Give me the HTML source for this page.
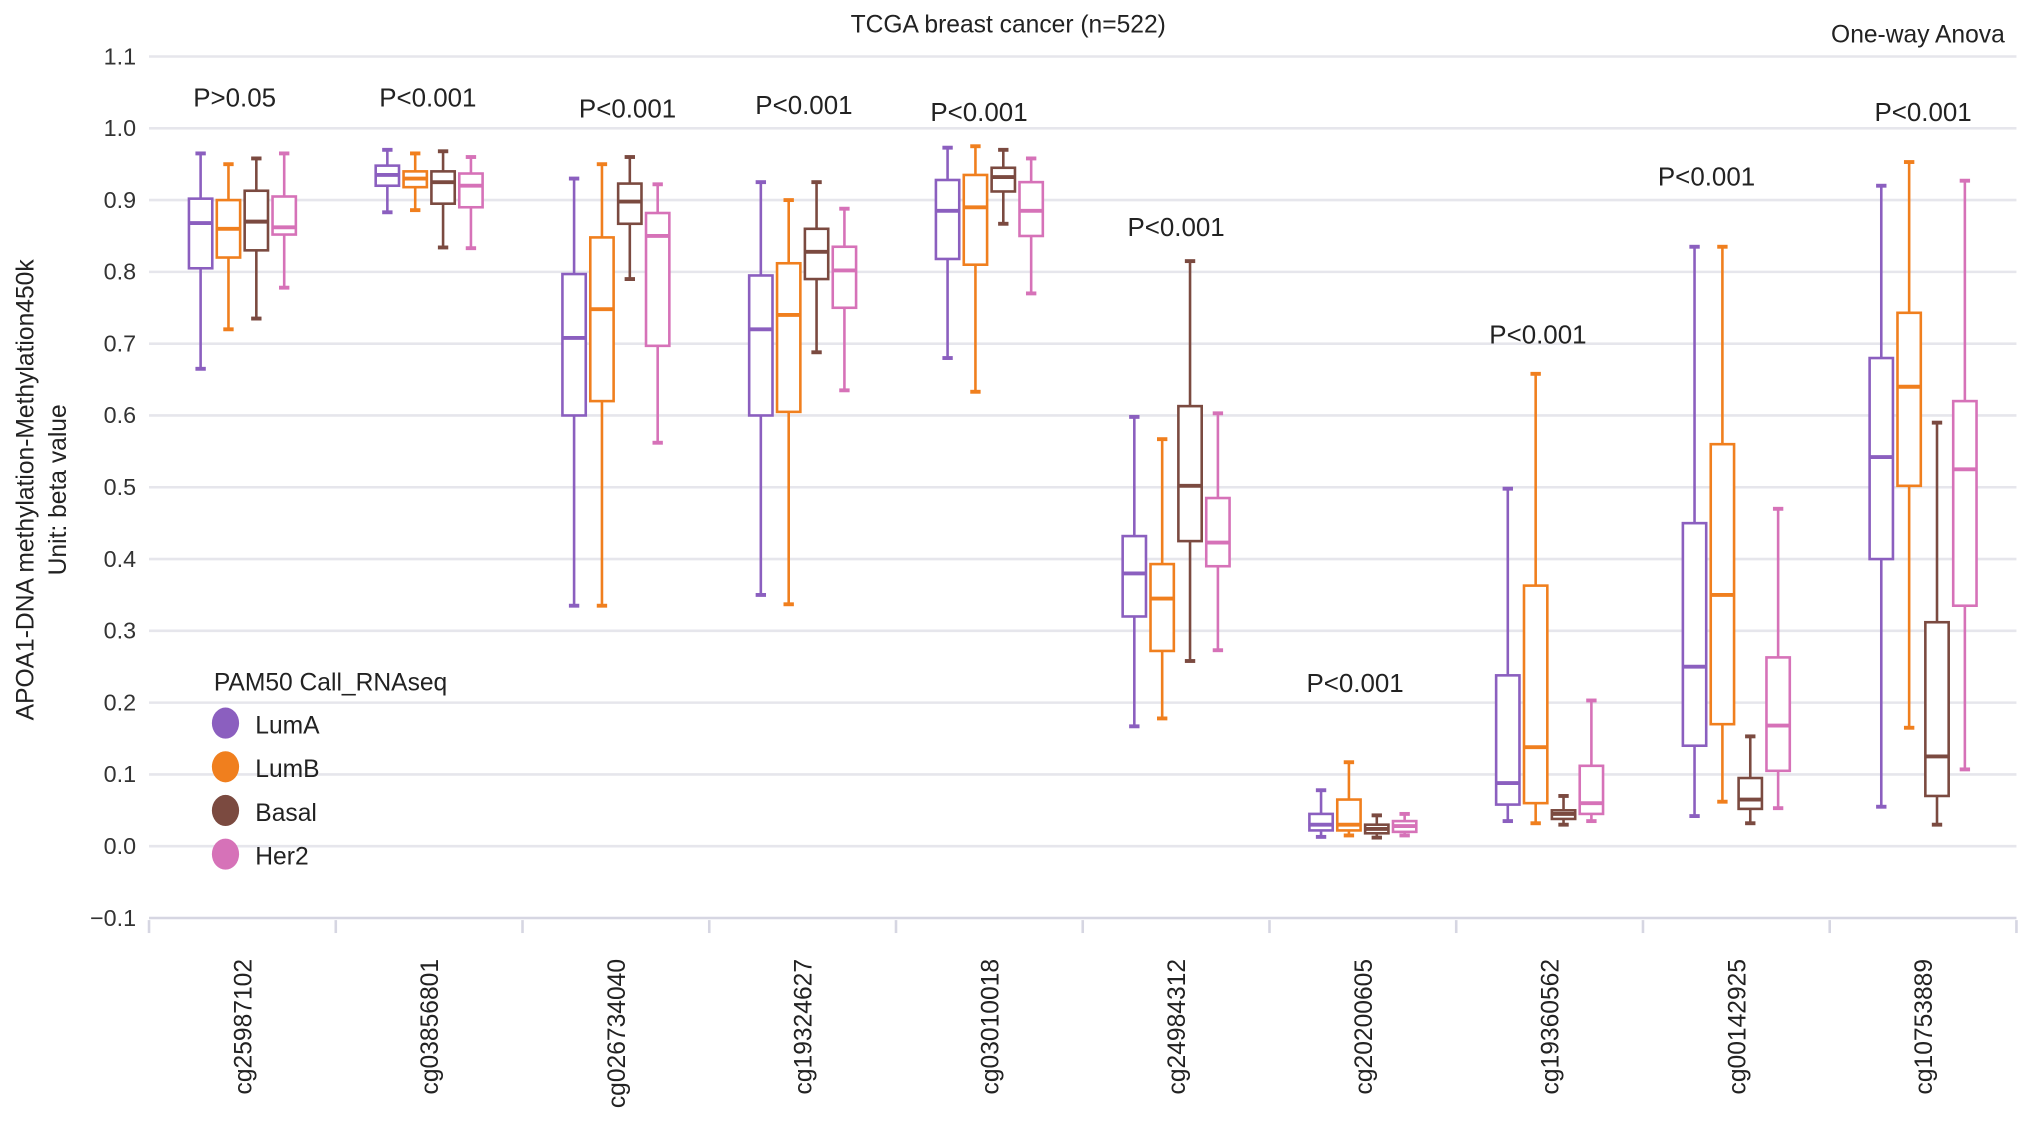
<!DOCTYPE html>
<html><head><meta charset="utf-8"><style>
html,body{margin:0;padding:0;background:#fff;}
svg{display:block;font-family:"Liberation Sans",sans-serif;}
</style></head><body>
<svg id="chart" width="2032" height="1140" viewBox="0 0 1568 879.7" preserveAspectRatio="none" xmlns="http://www.w3.org/2000/svg">
<text x="778" y="25" font-size="19" text-anchor="middle" fill="#222">TCGA breast cancer (n=522)</text>
<text x="1547" y="33" font-size="19" text-anchor="end" fill="#222">One-way Anova</text>
<g font-size="19" fill="#222">
<text transform="translate(26,378) rotate(-90)" text-anchor="middle">APOA1-DNA methylation-Methylation450k</text>
<text transform="translate(51,378) rotate(-90)" text-anchor="middle">Unit: beta value</text>
</g>
<g id="grid"></g><g id="yticks"></g><g id="xaxis"></g><g id="boxes"></g><g id="plabels"></g>
<g>
<text x="165" y="533" font-size="19" fill="#222">PAM50 Call_RNAseq</text>
<g id="legend-items"></g>
</g>
</svg>
<script>
const categories=["cg25987102","cg03856801","cg026734040","cg19324627","cg03010018","cg24984312","cg20200605","cg19360562","cg00142925","cg10753889"];
const groups=["LumA","LumB","Basal","Her2"];
const colors=["#8b5fbf","#f07f1e","#7b4a40","#d672b8"];
const pLabels=["P>0.05","P<0.001","P<0.001","P<0.001","P<0.001","P<0.001","P<0.001","P<0.001","P<0.001","P<0.001"];
const pValuePos=[1.03,1.03,1.015,1.02,1.01,0.85,0.215,0.70,0.92,1.01];
const pOffset=[-6,-1,9,1,-8,0,-6,-9,-23,0];
const yTicks=[1.1,1.0,0.9,0.8,0.7,0.6,0.5,0.4,0.3,0.2,0.1,0.0,-0.1];
const yTickLabels=["1.1","1.0","0.9","0.8","0.7","0.6","0.5","0.4","0.3","0.2","0.1","0.0","\u22120.1"];
// [low whisker, q1, median, q3, high whisker] per category, per group
const lumA=[[0.665,0.805,0.868,0.902,0.965],[0.883,0.92,0.935,0.948,0.97],[0.335,0.6,0.708,0.797,0.93],[0.35,0.6,0.72,0.795,0.925],[0.68,0.818,0.885,0.928,0.973],[0.167,0.32,0.38,0.432,0.598],[0.013,0.022,0.03,0.045,0.078],[0.035,0.058,0.088,0.238,0.498],[0.042,0.14,0.25,0.45,0.835],[0.055,0.4,0.542,0.68,0.92]];
const lumB=[[0.72,0.82,0.86,0.9,0.95],[0.886,0.918,0.93,0.94,0.965],[0.335,0.62,0.748,0.848,0.95],[0.337,0.605,0.74,0.812,0.9],[0.633,0.81,0.89,0.935,0.975],[0.178,0.272,0.345,0.393,0.567],[0.015,0.022,0.03,0.065,0.117],[0.032,0.06,0.138,0.363,0.658],[0.062,0.17,0.35,0.56,0.835],[0.165,0.502,0.64,0.743,0.953]];
const basal=[[0.735,0.83,0.87,0.913,0.958],[0.834,0.895,0.925,0.94,0.968],[0.79,0.867,0.898,0.923,0.96],[0.688,0.79,0.828,0.86,0.925],[0.867,0.912,0.932,0.945,0.97],[0.258,0.425,0.502,0.613,0.815],[0.012,0.018,0.024,0.03,0.043],[0.03,0.038,0.045,0.05,0.07],[0.032,0.052,0.065,0.095,0.153],[0.03,0.07,0.125,0.312,0.59]];
const her2=[[0.778,0.852,0.862,0.905,0.965],[0.833,0.89,0.92,0.937,0.96],[0.562,0.697,0.85,0.882,0.922],[0.635,0.75,0.802,0.835,0.888],[0.77,0.85,0.885,0.925,0.958],[0.273,0.39,0.423,0.485,0.603],[0.015,0.02,0.028,0.035,0.045],[0.035,0.045,0.06,0.112,0.203],[0.053,0.105,0.168,0.263,0.47],[0.107,0.335,0.525,0.62,0.927]];
const series=[lumA,lumB,basal,her2];

const NS="http://www.w3.org/2000/svg";
const X0=115,X1=1556;
const bandW=(X1-X0)/categories.length;
function y(v){return 653-v*554;}
function xc(i){return X0+bandW*(i+0.5);}
function xg(i,g){return xc(i)+(g-1.5)*21.5;}
function mk(tag,attrs,parent){const e=document.createElementNS(NS,tag);for(const k in attrs)e.setAttribute(k,attrs[k]);parent.appendChild(e);return e;}

const grid=document.getElementById('grid'),yt=document.getElementById('yticks');
yTicks.forEach((v,i)=>{
  const l=mk('line',{x1:X0,x2:X1,y1:y(v),y2:y(v),stroke:i===yTicks.length-1?'#d6d6e2':'#e6e6ec','stroke-width':2},grid);
  
  
  const t=mk('text',{x:105,y:y(v)+6,'font-size':18,'text-anchor':'end',fill:'#333'},yt);
  t.textContent=yTickLabels[i];
  
  
});
const xa=document.getElementById('xaxis');
for(let i=0;i<=categories.length;i++){
  const tk=mk('line',{x1:X0+bandW*i,x2:X0+bandW*i,y1:710,y2:720,stroke:'#d6d6e2','stroke-width':2},xa);
  
  
}
categories.forEach((c,i)=>{
  const t=mk('text',{transform:`translate(${xc(i)+7},740) rotate(-90)`,'font-size':19,'text-anchor':'end',fill:'#222'},xa);
  t.textContent=c;
  
  
});
const bx=document.getElementById('boxes');
categories.forEach((c,i)=>{
  series.forEach((s,g)=>{
    const d=s[i],cx=xg(i,g),col=colors[g],w=18;
    const grp=mk('g',{},bx);
    
    
    mk('line',{x1:cx,x2:cx,y1:y(d[0]),y2:y(d[1]),stroke:col,'stroke-width':2},grp);
    mk('line',{x1:cx,x2:cx,y1:y(d[3]),y2:y(d[4]),stroke:col,'stroke-width':2},grp);
    mk('line',{x1:cx-4,x2:cx+4,y1:y(d[0]),y2:y(d[0]),stroke:col,'stroke-width':3},grp);
    mk('line',{x1:cx-4,x2:cx+4,y1:y(d[4]),y2:y(d[4]),stroke:col,'stroke-width':3},grp);
    mk('rect',{x:cx-w/2,y:y(d[3]),width:w,height:Math.max(1,y(d[1])-y(d[3])),fill:'#fff',stroke:col,'stroke-width':2},grp);
    mk('line',{x1:cx-w/2,x2:cx+w/2,y1:y(d[2]),y2:y(d[2]),stroke:col,'stroke-width':3},grp);
  });
});
const pl=document.getElementById('plabels');
pLabels.forEach((p,i)=>{
  const t=mk('text',{x:xc(i)+pOffset[i],y:y(pValuePos[i]),'font-size':20,'text-anchor':'middle',fill:'#222'},pl);
  t.textContent=p;
  
  
});
const li=document.getElementById('legend-items');
groups.forEach((g,k)=>{
  const cy=558+k*33.7;
  const e=mk('g',{},li);
  
  
  mk('ellipse',{cx:174,cy:cy,rx:10.5,ry:12,fill:colors[k]},e);
  const t=mk('text',{x:197,y:cy+8,'font-size':19,fill:'#222'},e);
  t.textContent=g;
});
</script>
</body></html>
